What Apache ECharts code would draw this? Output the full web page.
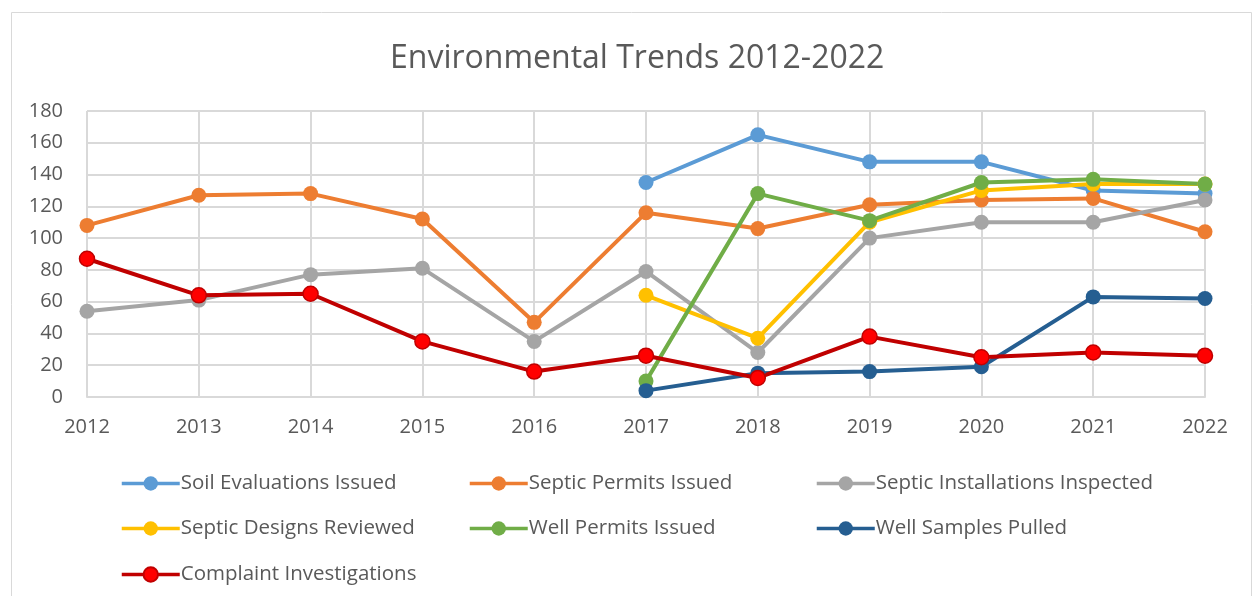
<!DOCTYPE html>
<html><head><meta charset="utf-8">
<script src="https://cdn.jsdelivr.net/npm/echarts@6/dist/echarts.min.js"></script>
<style>html,body{margin:0;padding:0;background:#fff}#c{width:1254px;height:596px}</style>
</head><body><div id="c"></div>
<script>
const years = ['2012','2013','2014','2015','2016','2017','2018','2019','2020','2021','2022'];
const yTicks = [0,20,40,60,80,100,120,140,160,180];
const soilEvaluations = [null,null,null,null,null,135,165,148,148,130,128];
const septicPermits = [108,127,128,112,47,116,106,121,124,125,104];
const septicInstallations = [54,61,77,81,35,79,28,100,110,110,124];
const septicDesigns = [null,null,null,null,null,64,37,110,130,134,134];
const wellPermits = [null,null,null,null,null,10,128,111,135,137,134];
const wellSamples = [null,null,null,null,null,4,15,16,19,63,62];
const complaints = [87,64,65,35,16,26,12,38,25,28,26];

const names = ['Soil Evaluations Issued','Septic Permits Issued','Septic Installations Inspected','Septic Designs Reviewed','Well Permits Issued','Well Samples Pulled','Complaint Investigations'];
const values = [soilEvaluations,septicPermits,septicInstallations,septicDesigns,wellPermits,wellSamples,complaints];
const colors = ['#5B9BD5','#ED7D31','#A5A5A5','#FFC000','#70AD47','#255E91','#C00000'];
const font = '"Open Sans", sans-serif';
const colX = [120,468,815];
const rowY = [473,518,564];

const chart = echarts.init(document.getElementById('c'));
chart.setOption({
  animation:false,
  graphic:[{type:'rect',shape:{x:11.5,y:12.5,width:1240,height:620},style:{fill:'none',stroke:'#d9d9d9',lineWidth:1}}],
  title:{text:'Environmental Trends 2012-2022',left:390,top:43,padding:0,textStyle:{fontFamily:font,fontSize:32,fontWeight:'normal',color:'#595959'}},
  grid:{left:87,right:49,top:111,bottom:199,containLabel:false},
  xAxis:{type:'category',data:years,boundaryGap:false,
    axisLine:{lineStyle:{color:'#d9d9d9',width:2}},axisTick:{show:false},
    axisLabel:{fontFamily:font,fontSize:20,color:'#595959',margin:20},
    splitLine:{show:true,lineStyle:{color:'#d9d9d9',width:2}}},
  yAxis:{type:'value',min:0,max:180,interval:20,
    axisLine:{show:false},axisTick:{show:false},
    axisLabel:{fontFamily:font,fontSize:20,color:'#595959',margin:24},
    splitLine:{lineStyle:{color:'#d9d9d9',width:2}}},
  legend: names.map((n,i)=>({data:[n],left:colX[i%3],top:rowY[Math.floor(i/3)],padding:0,itemWidth:58,itemHeight:18,itemGap:0,
    lineStyle:{width:3.5},
    textStyle:{fontFamily:font,fontSize:20.5,color:'#595959',padding:[0,0,0,-4]}})),
  series: names.map((n,i)=>({name:n,type:'line',data:values[i],symbol:'circle',symbolSize:15,
    lineStyle:{color:colors[i],width:4},
    itemStyle:{color:i===6?'#FF0000':colors[i],borderColor:colors[i],borderWidth:i===6?1.5:0},
    connectNulls:false}))
});
</script></body></html>
